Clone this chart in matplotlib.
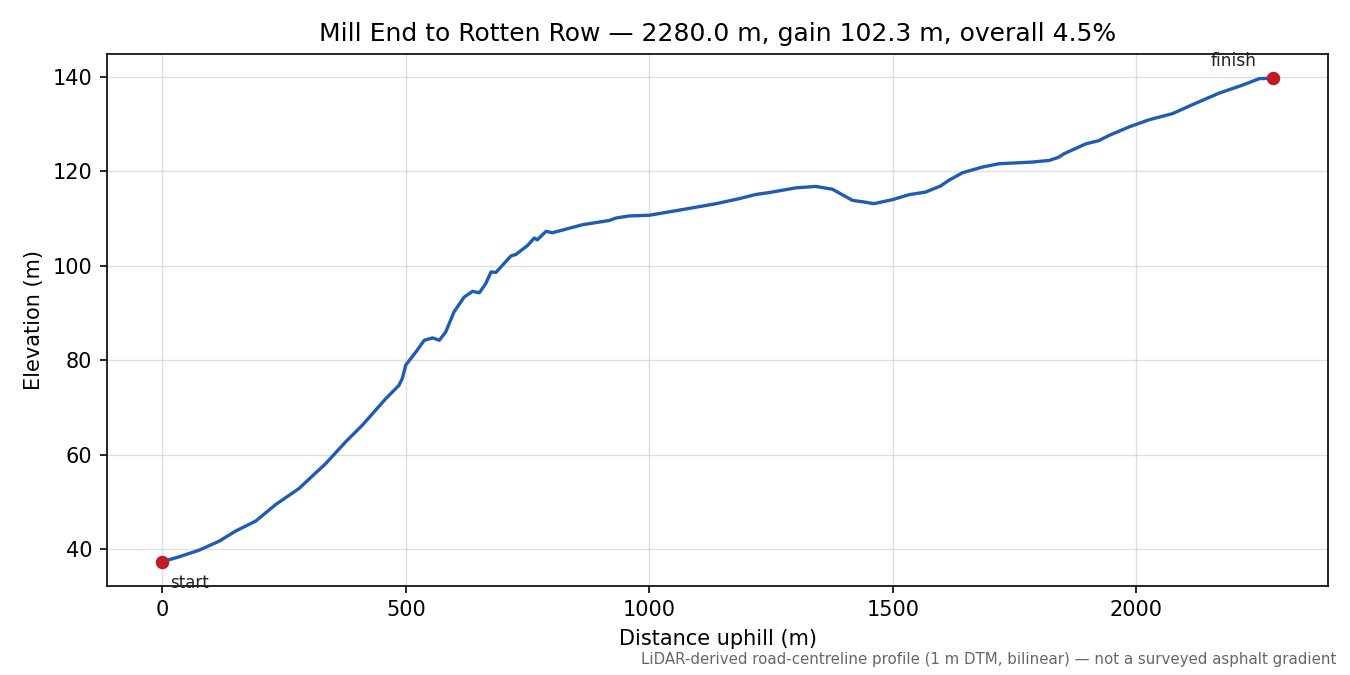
import numpy as np
import matplotlib
matplotlib.use("Agg")
import matplotlib.pyplot as plt

# Profile (distance along road, elevation)
distance_m = [0, 35, 76, 117, 151, 192, 233, 281, 336, 377, 411, 459, 486, 493,
              500, 521, 538, 555, 569, 582, 599, 620, 637, 651, 664, 675, 685,
              716, 726, 750, 764, 770, 788, 801, 863, 918, 931, 958, 1000, 1068,
              1137, 1184, 1219, 1246, 1301, 1342, 1376, 1396, 1417, 1441, 1461,
              1499, 1533, 1567, 1598, 1615, 1643, 1684, 1718, 1786, 1821, 1841,
              1851, 1896, 1923, 1944, 1985, 2026, 2074, 2115, 2170, 2217, 2252,
              2280]
elevation_m = [37.4, 38.45, 39.85, 41.75, 43.9, 46.0, 49.5, 52.9, 58.2, 62.8,
               66.3, 71.9, 74.7, 76.2, 79.0, 81.8, 84.25, 84.75, 84.25, 86.0,
               90.25, 93.4, 94.6, 94.3, 96.2, 98.7, 98.6, 102.1, 102.4, 104.3,
               105.9, 105.5, 107.3, 107.0, 108.7, 109.6, 110.1, 110.55, 110.7,
               111.9, 113.15, 114.2, 115.1, 115.5, 116.5, 116.8, 116.2, 115.05,
               113.85, 113.5, 113.15, 114.0, 115.05, 115.6, 116.9, 118.1, 119.7,
               120.9, 121.6, 121.95, 122.3, 123.0, 123.7, 125.8, 126.5, 127.6,
               129.4, 130.9, 132.2, 134.1, 136.55, 138.2, 139.6, 139.7]

route_name = "Mill End to Rotten Row"
footnote = "LiDAR-derived road-centreline profile (1 m DTM, bilinear) \u2014 not a surveyed asphalt gradient"

d = np.array(distance_m, dtype=float)
z = np.array(elevation_m, dtype=float)
length = d[-1] - d[0]
gain = z[-1] - z[0]
grade = gain / length * 100

fig, ax = plt.subplots(figsize=(9, 4.5), dpi=150)
fig.subplots_adjust(left=0.079, right=0.984, top=0.92, bottom=0.132)

ax.plot(d, z, color="#1f5cb4", linewidth=1.6)
ax.scatter([d[0], d[-1]], [z[0], z[-1]], color="#c01c28", s=30, zorder=5)

ax.annotate("start", (d[0], z[0]), xytext=(4, -6), textcoords="offset points",
            ha="left", va="top", fontsize=8, color="#222222")
ax.annotate("finish", (d[-1], z[-1]), xytext=(-8, 4), textcoords="offset points",
            ha="right", va="bottom", fontsize=8.2, color="#222222")

ax.grid(True, color="#cccccc", alpha=0.6, linewidth=0.7)
ax.set_xlabel("Distance uphill (m)")
ax.set_ylabel("Elevation (m)")
ax.set_title(f"{route_name} \u2014 {length:.1f} m, gain {gain:.1f} m, overall {grade:.1f}%")

fig.text(0.99, 0.012, footnote, ha="right", va="bottom", fontsize=7.2, color="#666666")

fig.savefig("out.png", dpi=150)
